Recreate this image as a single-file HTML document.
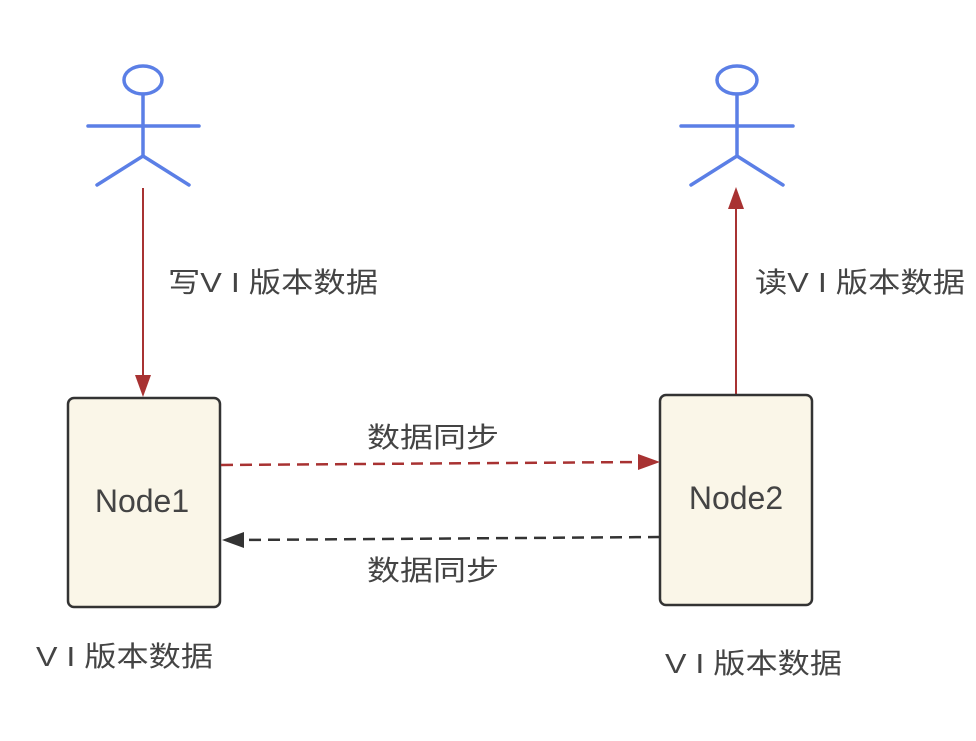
<!DOCTYPE html>
<html><head><meta charset="utf-8"><style>
html,body{margin:0;padding:0;background:#fff;}
svg{display:block;}
text{font-family:"Liberation Sans","Noto Sans CJK SC",sans-serif;fill:#444;}
</style></head><body>
<svg width="976" height="741" viewBox="0 0 976 741" xmlns="http://www.w3.org/2000/svg">
<!-- actors -->
<g stroke="#5b7fe6" stroke-width="3.5" fill="none" stroke-linecap="round">
<ellipse cx="143" cy="80" rx="19" ry="14"/>
<line x1="143" y1="94" x2="143" y2="156"/>
<line x1="88" y1="126" x2="199" y2="126"/>
<line x1="143" y1="156" x2="97" y2="185"/>
<line x1="143" y1="156" x2="189" y2="185"/>
<ellipse cx="737" cy="80" rx="20" ry="14"/>
<line x1="737" y1="94" x2="737" y2="156"/>
<line x1="681" y1="126" x2="793" y2="126"/>
<line x1="737" y1="156" x2="691" y2="185"/>
<line x1="737" y1="156" x2="783" y2="185"/>
</g>
<!-- vertical arrows -->
<line x1="143" y1="188" x2="143" y2="380" stroke="#a83232" stroke-width="2"/>
<path d="M135,375 L151,375 L143,397 Z" fill="#a83232"/>
<line x1="736" y1="394" x2="736" y2="205" stroke="#a83232" stroke-width="2"/>
<path d="M728,209 L744,209 L736,187 Z" fill="#a83232"/>
<!-- nodes -->
<rect x="68" y="398" width="152" height="209" rx="6" fill="#faf6e8" stroke="#333" stroke-width="2.5"/>
<rect x="660" y="395" width="152" height="210" rx="6" fill="#faf6e8" stroke="#333" stroke-width="2.5"/>
<text x="142" y="512" font-size="32" text-anchor="middle" fill="#333">Node1</text>
<text x="736" y="509" font-size="32" text-anchor="middle" fill="#333">Node2</text>
<!-- dashed -->
<line x1="221" y1="465" x2="642" y2="462" stroke="#a83232" stroke-width="2.5" stroke-dasharray="12,7"/>
<path d="M638,454 L660,462 L638,470 Z" fill="#a83232"/>
<line x1="660" y1="537" x2="240" y2="540" stroke="#333" stroke-width="2.5" stroke-dasharray="12,7"/>
<path d="M244,532 L222,540 L244,548 Z" fill="#333"/>
<!-- labels -->
<text x="168" y="292" font-size="28" textLength="210" lengthAdjust="spacingAndGlyphs">写V I 版本数据</text>
<text x="755" y="292" font-size="28" textLength="210" lengthAdjust="spacingAndGlyphs">读V I 版本数据</text>
<text x="367" y="447" font-size="28" textLength="132" lengthAdjust="spacingAndGlyphs">数据同步</text>
<text x="367" y="580" font-size="28" textLength="132" lengthAdjust="spacingAndGlyphs">数据同步</text>
<text x="36" y="666" font-size="28" textLength="177" lengthAdjust="spacingAndGlyphs">V I 版本数据</text>
<text x="665" y="673" font-size="28" textLength="177" lengthAdjust="spacingAndGlyphs">V I 版本数据</text>
</svg>
</body></html>
